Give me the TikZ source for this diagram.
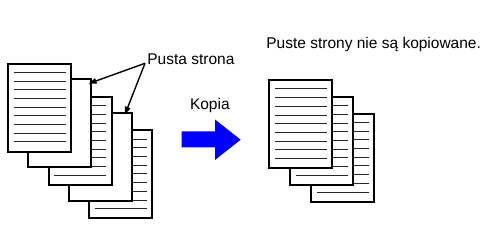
\documentclass[tikz,border=0pt]{standalone}
\usepackage{fontspec}
\setmainfont{Liberation Sans}
\usetikzlibrary{calc,arrows.meta}
\tikzset{
  sheet/.style={draw=black, line width=2pt, fill=white, rectangle, inner sep=0pt,
    minimum width=63pt, minimum height=88pt, anchor=north west},
  ruling/.style={line width=1pt, black!85},
  lbl/.style={inner sep=0pt, anchor=base west, font=\fontsize{15.5}{18}\selectfont},
  ptr/.style={line width=1.4pt, -{Triangle[length=8pt,width=5.5pt]}, shorten >=-1pt},
}
\newcommand{\rulesheet}[1]{%
  \foreach \i in {0,...,8}{%
    \draw[ruling] ($(#1.north west)+(6.5,9.7+8.7*\i)$) -- ($(#1.north east)+(-6.5,9.7+8.7*\i)$);
  }%
}
\begin{document}
\begin{tikzpicture}[x=1pt,y=-1pt]
\useasboundingbox (0,0) rectangle (484,232);
% left stack (back to front)
\node[sheet] (E) at (88.4,129.4) {};
\rulesheet{E}
\node[sheet] (D) at (68.2,111.8) {};
\node[sheet] (C) at (47.6,96) {};
\rulesheet{C}
\node[sheet] (B) at (27.2,77.8) {};
\node[sheet] (A) at (7,62.7) {};
\rulesheet{A}
% labels
\node[lbl] (pusta) at (147.2,64.3) {Pusta strona};
\node[lbl] (kopia) at (189.8,109.3) {Kopia};
\node[lbl] (title) at (266.2,48.3) {Puste strony nie są kopiowane.};
% pointers
\coordinate (src) at (145,63.3);
\coordinate (tB) at ($(B.north east)+(-2.7,5.5)$);
\coordinate (tD) at ($(D.north east)+(-8,2)$);
\draw[ptr] (src) -- (tB);
\draw[ptr] (src) -- (tD);
% blue arrow
\fill[blue] (181.7,131.5) -- (215,131.5) -- (215,119.5) -- (240.7,139.7)
  -- (215,160) -- (215,147.5) -- (181.7,147.5) -- cycle;
% right stack
\node[sheet] (R3) at (310.3,112.7) {};
\rulesheet{R3}
\node[sheet] (R2) at (289.3,96) {};
\rulesheet{R2}
\node[sheet] (R1) at (268.3,79.3) {};
\rulesheet{R1}
\end{tikzpicture}
\end{document}
